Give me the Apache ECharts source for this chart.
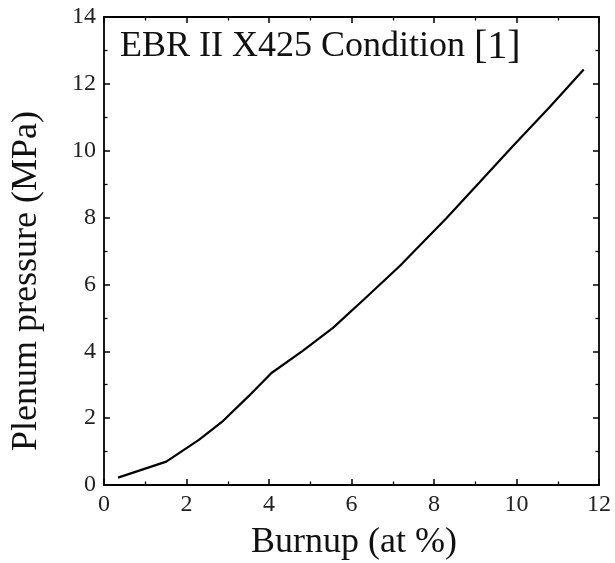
<!DOCTYPE html>
<html><head><meta charset="utf-8">
<script src="https://cdn.jsdelivr.net/npm/echarts@6/dist/echarts.min.js"></script>
<style>html,body{margin:0;padding:0;background:#fff}#c{width:615px;height:563px}</style>
</head><body><div id="c"></div>
<script>
const burnup = [0.34, 1.51, 2.3, 2.89, 3.5, 4.06, 4.8, 5.55, 6.3, 7.17, 8.3, 9.1, 9.92, 10.8, 11.63];
const pressure = [0.22, 0.70, 1.35, 1.92, 2.65, 3.35, 4.0, 4.70, 5.55, 6.55, 7.98, 9.05, 10.15, 11.3, 12.43];
const xTitle = 'Burnup (at %)';
const yTitle = 'Plenum pressure (MPa)';
const noteText = 'EBR II X425 Condition ';
const noteRef = '[1]';

const chart = echarts.init(document.getElementById('c'));
const serif = 'Liberation Serif';
function axis(extra) {
  return Object.assign({
    type: 'value',
    axisLine: {show: true, onZero: false, lineStyle: {color: '#000', width: 1.8}},
    axisTick: {show: true, inside: true, length: 6, lineStyle: {color: '#000', width: 1.5}},
    minorTick: {show: true, splitNumber: 2, length: 3.5, lineStyle: {color: '#000', width: 1.3}},
    splitLine: {show: false},
    axisLabel: {color: '#222', fontFamily: serif, fontSize: 24, margin: 8}
  }, extra);
}
chart.setOption({
  animation: false,
  grid: {left: 104, right: 16, top: 17, bottom: 78, containLabel: false},
  xAxis: [
    axis({min: 0, max: 12, interval: 2, position: 'bottom'}),
    axis({min: 0, max: 12, interval: 2, position: 'top', axisLabel: {show: false}})
  ],
  yAxis: [
    axis({min: 0, max: 14, interval: 2, position: 'left'}),
    axis({min: 0, max: 14, interval: 2, position: 'right', axisLabel: {show: false}})
  ],
  graphic: [{
    type: 'text', left: 120, top: 27,
    style: {
      text: '{a|' + noteText + '}{b|' + noteRef + '}',
      rich: {
        a: {fontFamily: serif, fontSize: 36, fill: '#111'},
        b: {fontFamily: serif, fontSize: 40, fill: '#111'}
      }
    }
  }, {
    type: 'text', x: 354, y: 543,
    style: {text: xTitle, fontFamily: serif, fontSize: 36, fill: '#111', align: 'center', verticalAlign: 'middle'}
  }, {
    type: 'text', x: 27, y: 281, rotation: Math.PI / 2,
    style: {text: yTitle, fontFamily: serif, fontSize: 36, fill: '#111', align: 'center', verticalAlign: 'middle'}
  }],
  series: [{
    type: 'line', data: burnup.map((x, i) => [x, pressure[i]]),
    showSymbol: false, lineStyle: {color: '#000', width: 2.2}
  }]
});
</script></body></html>
